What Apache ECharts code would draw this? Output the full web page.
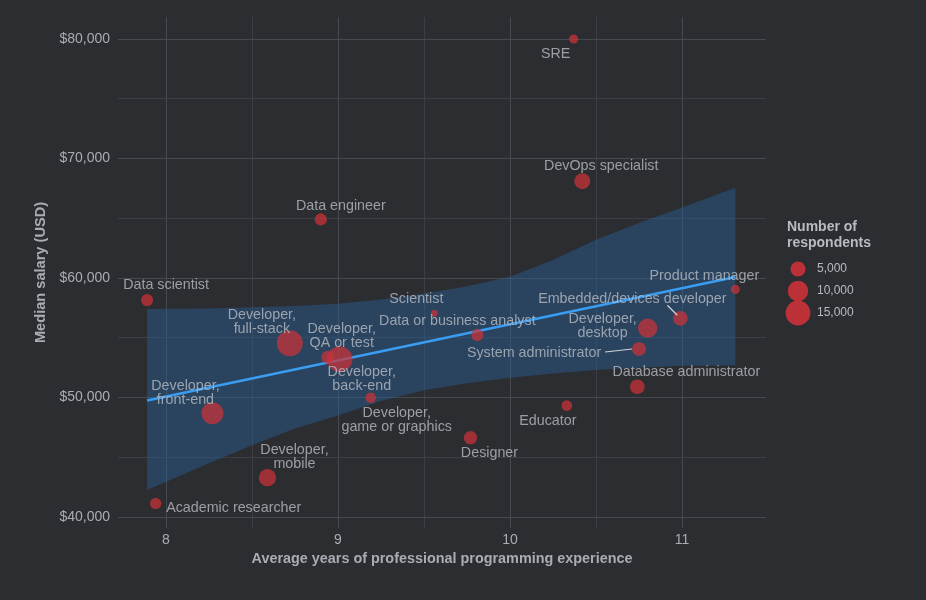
<!DOCTYPE html>
<html>
<head>
<meta charset="utf-8">
<title>Salary vs experience</title>
<script src="https://cdn.jsdelivr.net/npm/echarts@6/dist/echarts.min.js"></script>
<style>
  html, body { margin: 0; padding: 0; background: #2b2d31; }
  #chart { width: 926px; height: 600px; }
</style>
</head>
<body>
<div id="chart"></div>
<script>
// roles
const roles = [
  "SRE", "DevOps specialist", "Data engineer", "Data scientist", "Product manager",
  "Scientist", "Data or business analyst", "Embedded/devices developer", "Developer, desktop",
  "System administrator", "Developer, full-stack", "Developer, QA or test", "Developer, back-end",
  "Developer, game or graphics", "Developer, front-end", "Database administrator", "Educator",
  "Designer", "Developer, mobile", "Academic researcher"
];
const experience = [10.37, 10.42, 8.90, 7.89, 11.31, 9.56, 9.81, 10.99, 10.80, 10.75,
  8.72, 8.94, 9.01, 9.19, 8.27, 10.74, 10.33, 9.77, 8.59, 7.94];
const salary = [80000, 68100, 64900, 58150, 59050, 57050, 55230, 56630, 55800, 54060,
  54540, 53370, 53200, 49980, 48680, 50900, 49320, 46640, 43290, 41140];
const respondents = [1200, 5700, 2900, 2900, 1200, 250, 3000, 4700, 8700, 4200,
  16600, 3400, 16000, 2000, 11600, 4700, 2000, 3700, 6900, 2400];

// fitted line and its confidence band
const trendX = [7.89, 11.31];
const trendY = [49750, 60080];
const bandX = [7.89, 8.25, 8.5, 8.75, 9.0, 9.25, 9.5, 9.75, 10.0, 10.25, 10.5, 10.75, 11.0, 11.31];
const bandLow = [42250, 44500, 46000, 47400, 48500, 49700, 50600, 51200, 51650, 52000, 52300, 52500, 52650, 52700];
const bandHigh = [57400, 57450, 57550, 57650, 57850, 58200, 58700, 59300, 60100, 61500, 63200, 64600, 65900, 67550];

// ticks / grid
const xMajor = [8, 9, 10, 11];
const xMinor = [8.5, 9.5, 10.5];
const yMajor = [40000, 50000, 60000, 70000, 80000];
const yMinor = [45000, 55000, 65000, 75000];
const legendValues = [5000, 10000, 15000];

// label nudges in px (dx, dy) from each point
const labelNudge = [
  [-18, 15], [19, -15], [20, -13], [19, -15], [-31, -13],
  [-18, -14], [-20, -14], [-48, -19], [-45, -2], [-105, 4],
  [-28, -21], [14, -21], [22, 20], [26, 22], [-27, -20],
  [49, -15], [-19, 15], [19, 15], [27, -21], [78, 5]
];
// leader segments (px, relative to the point) for the two pushed labels
const leaders = {
  "Embedded/devices developer": [[-3, -3], [-13, -13]],
  "System administrator": [[-7, 0], [-34, 3]]
};

const FONT = "Liberation Sans, Arial, Helvetica, sans-serif";
const TEXT = "#b8bbc2";
const POINT = "rgba(204, 50, 56, 0.9)";

// area-linear size scale, diameter in px
function sizeFor(n) {
  return Math.sqrt(36 + 0.0385 * n);
}

const chart = echarts.init(document.getElementById("chart"));

const major = { color: "#46494f", width: 1, type: "solid" };
const minor = { color: "#3b3e44", width: 1, type: "solid" };
const gridLines = []
  .concat(xMajor.map(v => ({ xAxis: v, lineStyle: major })))
  .concat(xMinor.map(v => ({ xAxis: v, lineStyle: minor })))
  .concat(yMajor.map(v => ({ yAxis: v, lineStyle: major })))
  .concat(yMinor.map(v => ({ yAxis: v, lineStyle: minor })));

const scatterData = roles.map((r, i) => ({
  name: r,
  value: [experience[i], salary[i], respondents[i]]
}));

const legendGraphics = [
  {
    type: "text", left: 787, top: 219,
    style: { text: "Number of\nrespondents", fill: TEXT, font: "bold 14px " + FONT, lineHeight: 16 }
  }
].concat(legendValues.map((v, i) => ({
  type: "circle",
  shape: { cx: 798, cy: 269 + 22 * i, r: sizeFor(v) / 2 },
  style: { fill: POINT }
}))).concat(legendValues.map((v, i) => ({
  type: "text",
  x: 817, y: 269 + 22 * i,
  style: { text: v.toLocaleString("en-US"), fill: TEXT, font: "12px " + FONT, verticalAlign: "middle" }
})));

const option = {
  backgroundColor: "#2b2d31",
  animation: false,
  grid: { left: 118, right: 160, top: 17, bottom: 72 },
  xAxis: {
    type: "value",
    min: 7.721,
    max: 11.488,
    name: "Average years of professional programming experience",
    nameLocation: "middle",
    nameGap: 24,
    nameTextStyle: { color: "#a9acb3", fontFamily: FONT, fontWeight: "bold", fontSize: 14.4 },
    axisLine: { show: false },
    axisTick: { show: false },
    splitLine: { show: false },
    axisLabel: {
      color: "#a9acb3", fontFamily: FONT, fontSize: 14, margin: 5,
      formatter: v => (xMajor.includes(v) ? String(v) : "")
    }
  },
  yAxis: {
    type: "value",
    min: 39080,
    max: 81840,
    name: "Median salary (USD)",
    nameLocation: "middle",
    nameGap: 64,
    nameTextStyle: { color: "#a9acb3", fontFamily: FONT, fontWeight: "bold", fontSize: 14.6 },
    axisLine: { show: false },
    axisTick: { show: false },
    splitLine: { show: false },
    axisLabel: {
      color: "#a9acb3", fontFamily: FONT, fontSize: 14, margin: 8,
      formatter: v => (yMajor.includes(v) ? "$" + v.toLocaleString("en-US") : "")
    }
  },
  series: [
    {
      // holder for the panel grid lines, drawn under everything
      type: "line",
      z: 0,
      silent: true,
      data: [],
      markLine: {
        silent: true,
        z: 0,
        symbol: ["none", "none"],
        label: { show: false },
        lineStyle: { type: "solid" },
        emphasis: { disabled: true },
        data: gridLines
      }
    },
    {
      type: "custom",
      z: 3,
      silent: true,
      data: bandX.map((x, i) => [x, bandLow[i], bandHigh[i]]),
      encode: { x: 0, y: [1, 2] },
      renderItem: function (params, api) {
        if (params.dataIndex !== 0) return null;
        const pts = [];
        for (let i = 0; i < bandX.length; i++) pts.push(api.coord([bandX[i], bandHigh[i]]));
        for (let i = bandX.length - 1; i >= 0; i--) pts.push(api.coord([bandX[i], bandLow[i]]));
        return {
          type: "polygon",
          shape: { points: pts },
          style: { fill: "rgba(40, 100, 160, 0.42)" }
        };
      }
    },
    {
      type: "line",
      z: 4,
      silent: true,
      symbol: "none",
      data: trendX.map((x, i) => [x, trendY[i]]),
      lineStyle: { color: "#3a9df2", width: 2.5 }
    },
    {
      type: "scatter",
      z: 5,
      data: scatterData,
      symbolSize: val => sizeFor(val[2]),
      itemStyle: { color: POINT },
      label: {
        show: true,
        position: "inside",
        formatter: p => p.name.replace(/^Developer, /, "Developer,\n"),
        color: TEXT,
        fontFamily: FONT,
        fontSize: 14.3,
        lineHeight: 14,
        align: "center",
        verticalAlign: "middle"
      },
      labelLayout: function (p) {
        const o = labelNudge[p.dataIndex];
        return { dx: o[0], dy: o[1] };
      }
    }
  ],
  graphic: legendGraphics
};

chart.setOption(option);

// leader segments placed through the chart's own scales
const leaderGraphics = Object.keys(leaders).map(name => {
  const i = roles.indexOf(name);
  const p = chart.convertToPixel({ seriesIndex: 3 }, [experience[i], salary[i]]);
  const seg = leaders[name];
  return {
    type: "line",
    z: 10,
    silent: true,
    shape: { x1: p[0] + seg[0][0], y1: p[1] + seg[0][1], x2: p[0] + seg[1][0], y2: p[1] + seg[1][1] },
    style: { stroke: "#d0d2d6", lineWidth: 1.2 }
  };
});
chart.setOption({ graphic: legendGraphics.concat(leaderGraphics) });
</script>
</body>
</html>
